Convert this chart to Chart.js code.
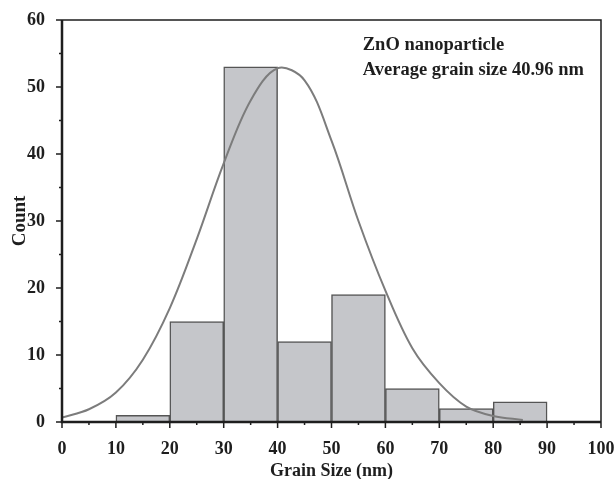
<!DOCTYPE html>
<html>
<head>
<meta charset="utf-8">
<script src="https://cdn.jsdelivr.net/npm/chart.js@4/dist/chart.umd.min.js"></script>
<style>
  html, body { margin: 0; padding: 0; background: #fff; }
  #wrap { width: 616px; height: 479px; position: relative; }
</style>
</head>
<body>
<div id="wrap"><canvas id="c" width="616" height="479"></canvas></div>
<script>
// Histogram bins (centres) and counts
const binCentres = [15, 25, 35, 45, 55, 65, 75, 85];
const binCounts  = [1, 15, 53, 12, 19, 5, 2, 3];

// Fitted curve, points
const curveX = [0, 5, 10, 15, 20, 25, 30, 35, 40, 45, 50, 55, 60, 65, 70, 75, 80, 85.5];
const curveY = [0.65, 1.9, 4.4, 9.3, 17.0, 27.3, 38.6, 48.0, 52.8, 51.0, 42.0, 30.0, 19.6, 11.0, 5.8, 2.3, 0.9, 0.3];

// Tick values
const xTicks = [0, 10, 20, 30, 40, 50, 60, 70, 80, 90, 100];
const yTicks = [0, 10, 20, 30, 40, 50, 60];

const annotationLines = ["ZnO nanoparticle", "Average grain size 40.96 nm"];

const FONT = "'Liberation Serif', 'Times New Roman', serif";
const INK = '#1e1e1e';

const framePlugin = {
  id: 'frame',
  afterDraw(chart) {
    const ctx = chart.ctx;
    const a = chart.chartArea;
    const xs = chart.scales.x, ys = chart.scales.y;
    ctx.save();
    ctx.strokeStyle = INK;
    ctx.lineWidth = 1.5;
    ctx.beginPath();
    ctx.moveTo(a.left, a.top); ctx.lineTo(a.right, a.top); ctx.lineTo(a.right, a.bottom);
    ctx.stroke();
    ctx.lineWidth = 2.5;
    ctx.beginPath();
    ctx.moveTo(a.left, a.top); ctx.lineTo(a.left, a.bottom); ctx.lineTo(a.right, a.bottom);
    ctx.stroke();
    ctx.lineWidth = 1.5;
    ctx.beginPath();
    for (let v = 0; v <= 100; v += 5) {
      const px = xs.getPixelForValue(v);
      const len = (v % 10 === 0) ? 6 : 3;
      ctx.moveTo(px, a.bottom); ctx.lineTo(px, a.bottom + len);
    }
    for (let v = 0; v <= 60; v += 5) {
      const py = ys.getPixelForValue(v);
      const len = (v % 10 === 0) ? 6 : 3;
      ctx.moveTo(a.left, py); ctx.lineTo(a.left - len, py);
    }
    ctx.stroke();
    ctx.fillStyle = INK;
    ctx.font = "bold 18.5px " + FONT;
    ctx.textAlign = 'left';
    ctx.textBaseline = 'middle';
    const tx = xs.getPixelForValue(55.8);
    ctx.fillText(annotationLines[0], tx, ys.getPixelForValue(56.3));
    ctx.fillText(annotationLines[1], tx, ys.getPixelForValue(52.5));
    ctx.restore();
  }
};

new Chart(document.getElementById('c'), {
  type: 'bar',
  data: {
    datasets: [
      {
        type: 'line',
        data: curveX.map((x, i) => ({ x: x, y: curveY[i] })),
        borderColor: '#7c7c7c',
        borderWidth: 2,
        pointRadius: 0,
        tension: 0.35,
        fill: false,
        order: 0
      },
      {
        type: 'bar',
        data: binCentres.map((x, i) => ({ x: x, y: binCounts[i] })),
        backgroundColor: '#c5c6ca',
        borderColor: '#555555',
        borderWidth: 1.5,
        barPercentage: 1,
        categoryPercentage: 1,
        order: 1
      }
    ]
  },
  options: {
    responsive: false,
    animation: false,
    layout: { padding: { left: 0, right: 15, top: 20, bottom: 0 } },
    plugins: { legend: { display: false }, tooltip: { enabled: false } },
    scales: {
      x: {
        type: 'linear',
        min: 0, max: 100,
        offset: false,
        grid: { display: false, offset: false },
        border: { display: false },
        afterBuildTicks(scale) { scale.ticks = xTicks.map(v => ({ value: v })); },
        afterFit(scale) { scale.height = 57; scale.paddingLeft = 0; scale.paddingRight = 0; },
        ticks: {
          color: INK,
          padding: 9,
          maxRotation: 0,
          autoSkip: false,
          font: { family: FONT, size: 18, weight: 'bold' }
        },
        title: {
          display: true,
          text: 'Grain Size (nm)',
          color: INK,
          padding: { top: 0, bottom: 0 },
          font: { family: FONT, size: 18, weight: 'bold', lineHeight: 0.9 }
        }
      },
      y: {
        min: 0, max: 60,
        grid: { display: false },
        border: { display: false },
        afterBuildTicks(scale) { scale.ticks = yTicks.map(v => ({ value: v })); },
        afterFit(scale) { scale.width = 62; scale.paddingTop = 0; scale.paddingBottom = 0; },
        ticks: {
          color: INK,
          padding: 9,
          autoSkip: false,
          font: { family: FONT, size: 18, weight: 'bold' }
        },
        title: {
          display: true,
          text: 'Count',
          color: INK,
          padding: { top: 9, bottom: 0 },
          font: { family: FONT, size: 19, weight: 'bold', lineHeight: 1.2 }
        }
      }
    }
  },
  plugins: [framePlugin]
});
</script>
</body>
</html>
